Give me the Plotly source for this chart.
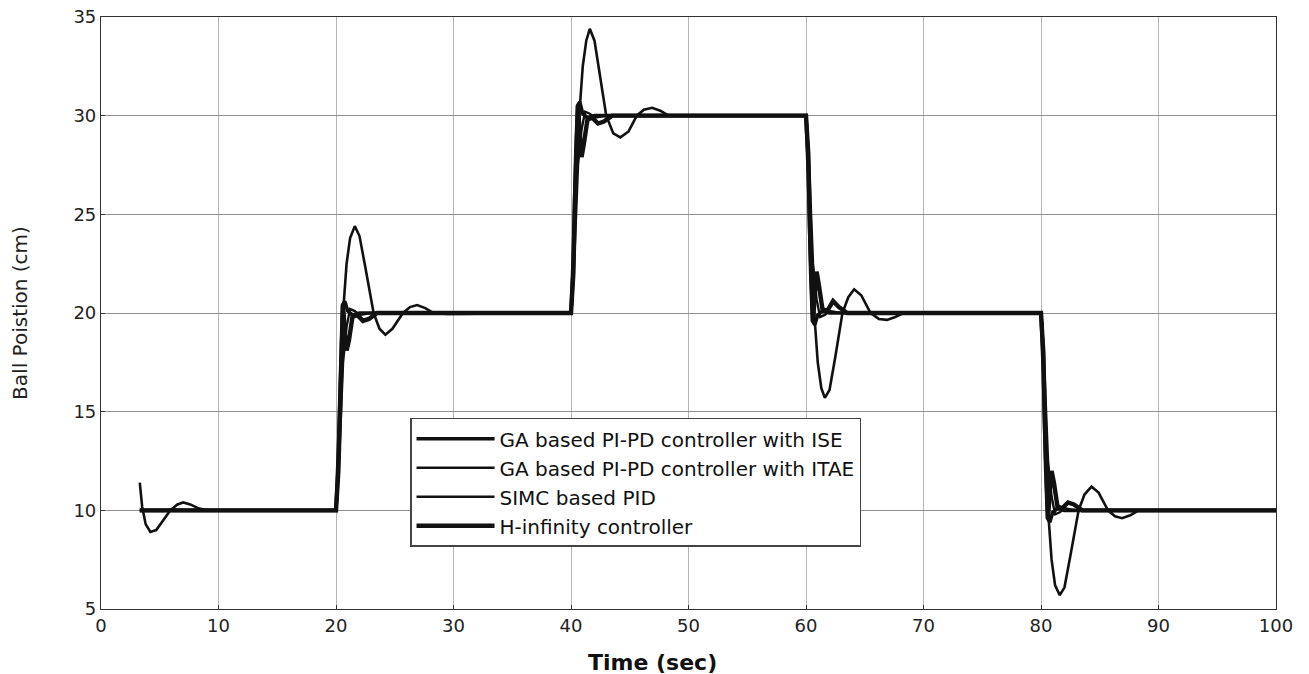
import plotly.graph_objects as go

# Ball-and-beam position responses to a staircase set-point (10 -> 20 -> 30 -> 20 -> 10 cm)

t_ise = [3.3, 20.0, 20.2, 20.4, 20.55, 20.75, 21.0, 21.4, 22.0,
         40.0, 40.2, 40.4, 40.55, 40.75, 41.0, 41.4, 42.0,
         60.0, 60.2, 60.4, 60.55, 60.75, 61.0, 61.4, 62.0,
         80.0, 80.2, 80.4, 80.55, 80.75, 81.0, 81.4, 82.0, 100.0]
y_ise = [10.0, 10.0, 13.0, 18.0, 20.4, 20.6, 20.1, 19.9, 20.0,
         20.0, 23.0, 28.0, 30.5, 30.7, 30.1, 29.9, 30.0,
         30.0, 27.0, 22.0, 19.6, 19.4, 19.9, 20.1, 20.0,
         20.0, 17.0, 12.0, 9.6, 9.4, 9.9, 10.1, 10.0, 10.0]

t_itae = [3.3, 20.0, 20.2, 20.4, 20.6, 20.9, 21.2, 21.6, 22.0, 23.0,
          40.0, 40.2, 40.4, 40.6, 40.9, 41.2, 41.6, 42.0, 43.0,
          60.0, 60.2, 60.4, 60.6, 60.9, 61.2, 61.6, 62.0, 63.0,
          80.0, 80.2, 80.4, 80.6, 80.9, 81.2, 81.6, 82.0, 83.0, 100.0]
y_itae = [10.0, 10.0, 11.5, 15.0, 17.5, 19.3, 20.2, 20.1, 19.9, 20.0,
          20.0, 21.5, 25.0, 27.5, 29.3, 30.2, 30.1, 29.9, 30.0,
          30.0, 28.5, 25.0, 22.5, 20.7, 19.8, 19.9, 20.1, 20.0,
          20.0, 18.5, 15.0, 12.5, 10.7, 9.8, 9.9, 10.1, 10.0, 10.0]

t_simc = [3.3, 3.5, 3.8, 4.2, 4.7, 5.3, 5.9, 6.5, 7.0, 7.6, 8.3, 9.0, 10.0,
          20.0, 20.1, 20.4, 20.6, 20.9, 21.2, 21.6, 22.0, 22.5, 23.2, 23.7, 24.2,
          24.8, 25.7, 26.3, 26.9, 27.6, 28.3, 29.5,
          40.0, 40.1, 40.4, 40.7, 41.0, 41.3, 41.6, 42.0, 42.5, 43.0, 43.6, 44.2,
          44.9, 45.6, 46.2, 46.9, 47.6, 48.3,
          60.0, 60.1, 60.4, 60.7, 61.0, 61.3, 61.6, 62.0, 62.5, 63.1, 63.6, 64.1,
          64.7, 65.5, 66.2, 66.9, 67.6, 68.3,
          80.0, 80.1, 80.4, 80.6, 80.9, 81.2, 81.6, 82.0, 82.5, 83.2, 83.7, 84.3,
          84.9, 85.7, 86.3, 86.9, 87.6, 88.3, 100.0]
y_simc = [11.4, 10.2, 9.3, 8.9, 9.0, 9.5, 10.0, 10.3, 10.4, 10.3, 10.1, 10.0, 10.0,
          10.0, 10.5, 16.0, 20.0, 22.5, 23.8, 24.4, 23.9, 22.3, 20.0, 19.2, 18.9,
          19.2, 20.0, 20.3, 20.4, 20.25, 20.0, 19.95,
          20.0, 20.5, 26.0, 30.0, 32.5, 33.8, 34.4, 33.8, 32.0, 30.0, 29.1, 28.9,
          29.2, 30.0, 30.3, 30.4, 30.25, 30.0,
          30.0, 29.5, 24.0, 20.0, 17.5, 16.2, 15.7, 16.1, 17.8, 20.0, 20.8, 21.2,
          20.9, 20.0, 19.7, 19.65, 19.8, 20.0,
          20.0, 19.5, 14.0, 10.0, 7.5, 6.2, 5.7, 6.1, 7.7, 10.0, 10.8, 11.2,
          10.9, 10.0, 9.7, 9.6, 9.75, 10.0, 10.0]

t_hinf = [3.3, 20.0, 20.2, 20.35, 20.5, 20.6, 20.75, 20.9, 21.1, 21.4, 21.8, 22.3, 22.8, 23.5,
          40.0, 40.2, 40.35, 40.5, 40.6, 40.75, 40.9, 41.1, 41.4, 41.8, 42.3, 42.8, 43.5,
          60.0, 60.2, 60.35, 60.5, 60.6, 60.75, 60.9, 61.1, 61.4, 61.8, 62.3, 62.8, 63.5,
          80.0, 80.2, 80.35, 80.5, 80.6, 80.75, 80.9, 81.1, 81.4, 81.8, 82.3, 82.8, 83.5, 100.0]
y_hinf = [10.0, 10.0, 12.0, 16.0, 19.5, 20.4, 19.0, 18.1, 18.6, 19.8, 19.9, 19.6, 19.7, 20.0,
          20.0, 22.0, 26.0, 29.5, 30.5, 29.0, 27.9, 28.6, 29.8, 29.9, 29.6, 29.7, 30.0,
          30.0, 28.0, 24.0, 20.5, 19.6, 21.0, 22.1, 21.4, 20.2, 20.1, 20.6, 20.3, 20.0,
          20.0, 18.0, 14.0, 10.5, 9.6, 11.0, 12.0, 11.4, 10.2, 10.1, 10.4, 10.3, 10.0, 10.0]

names = ["GA based PI-PD controller with ISE",
         "GA based PI-PD controller with ITAE",
         "SIMC based PID",
         "H-infinity controller"]
widths = [3.6, 2.4, 2.6, 4.4]

x_ticks = [0, 10, 20, 30, 40, 50, 60, 70, 80, 90, 100]
y_ticks = [5, 10, 15, 20, 25, 30, 35]

fig = go.Figure()
for name, tx, ty, w in zip(names, [t_ise, t_itae, t_simc, t_hinf],
                           [y_ise, y_itae, y_simc, y_hinf], widths):
    fig.add_trace(go.Scatter(x=tx, y=ty, mode="lines", name=name,
                             line=dict(color="#111111", width=w)))

axis_font = dict(family="DejaVu Sans", size=18, color="#222222")
fig.update_layout(
    width=1309, height=674,
    margin=dict(l=101, r=33, t=17, b=65),
    paper_bgcolor="white", plot_bgcolor="white",
    font=dict(family="DejaVu Sans", color="#222222"),
    showlegend=True,
    legend=dict(x=0.263, y=0.323, xanchor="left", yanchor="top",
                bgcolor="white", bordercolor="#444444", borderwidth=1.5,
                font=dict(family="DejaVu Sans", size=20, color="#111111"),
                itemwidth=78, tracegroupgap=0),
    xaxis=dict(range=[0, 100], tickvals=x_ticks, ticks="inside", ticklen=4,
               tickcolor="#333333", showline=True, linecolor="#333333", linewidth=1.2,
               mirror=True, showgrid=True, gridcolor="#b5b5b5", gridwidth=1,
               zeroline=False, tickfont=axis_font, automargin=False),
    yaxis=dict(range=[5, 35], tickvals=y_ticks, ticks="inside", ticklen=4,
               tickcolor="#333333", showline=True, linecolor="#333333", linewidth=1.2,
               mirror=True, showgrid=True, gridcolor="#8f8f8f", gridwidth=1,
               zeroline=False, tickfont=axis_font, automargin=False,
               title=dict(text="Ball Poistion (cm)", standoff=40,
                          font=dict(family="DejaVu Sans", size=20, color="#222222"))),
    annotations=[dict(text="<b>Time (sec)</b>", xref="paper", yref="paper",
                      x=0.469, y=-0.0, yshift=-53, xanchor="center", yanchor="middle",
                      showarrow=False,
                      font=dict(family="DejaVu Sans", size=22, color="#111111"))],
)

fig.write_html("out.html")
